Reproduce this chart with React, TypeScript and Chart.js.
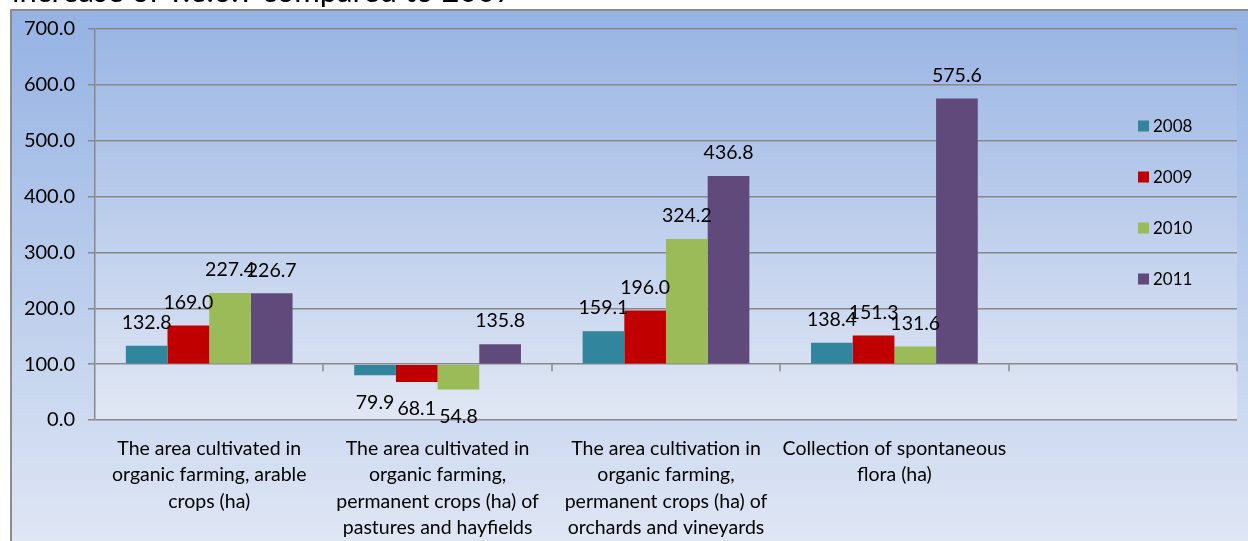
import React, { useEffect, useRef } from "react";
import { Chart, registerables } from "chart.js";

Chart.register(...registerables);

const titleText = "increase of Y.e.o.Y compared to 2007";
const categories: string[][] = [
  ["The area cultivated in", "organic farming, arable", "crops (ha)"],
  ["The area cultivated in", "organic farming,", "permanent crops (ha) of", "pastures and hayfields"],
  ["The area cultivation in", "organic farming,", "permanent crops (ha) of", "orchards and vineyards"],
  ["Collection of spontaneous", "flora (ha)"],
  [""],
];
const seriesNames = ["2008", "2009", "2010", "2011"];
const values2008 = [132.8, 79.9, 159.1, 138.4, null];
const values2009 = [169.0, 68.1, 196.0, 151.3, null];
const values2010 = [227.4, 54.8, 324.2, 131.6, null];
const values2011 = [226.7, 135.8, 436.8, 575.6, null];
const seriesColors = ["#31859c", "#c00000", "#9bbb59", "#604a7b"];
const baseValue = 100;
const yMin = 0;
const yMax = 700;
const yStep = 100;

const FONT = "Lato, 'Open Sans', sans-serif";

export default function App() {
  const ref = useRef<HTMLCanvasElement | null>(null);

  useEffect(() => {
    document.body.style.margin = "0";
    document.body.style.overflow = "hidden";
    const canvas = ref.current;
    if (!canvas) return;

    const bgPlugin = {
      id: "bgPlugin",
      beforeDraw(chart: any) {
        const ctx = chart.ctx;
        const W = chart.width;
        const H = chart.height;
        ctx.save();
        ctx.fillStyle = "#ffffff";
        ctx.fillRect(0, 0, W, H);
        const g = ctx.createLinearGradient(0, 9, 0, H);
        g.addColorStop(0, "#94b2e3");
        g.addColorStop(1, "#dfe6f4");
        ctx.fillStyle = g;
        ctx.fillRect(10, 9, W - 10, H - 9);
        ctx.strokeStyle = "#8c8c8c";
        ctx.lineWidth = 2;
        ctx.beginPath();
        ctx.moveTo(11, H);
        ctx.lineTo(11, 10);
        ctx.lineTo(W, 10);
        ctx.stroke();
        const a = chart.chartArea;
        const g2 = ctx.createLinearGradient(0, a.top, 0, a.bottom);
        g2.addColorStop(0, "#9bb6e4");
        g2.addColorStop(1, "#e1e7f4");
        ctx.fillStyle = g2;
        ctx.fillRect(a.left, a.top, a.right - a.left, a.bottom - a.top);
        ctx.restore();
      },
      afterDraw(chart: any) {
        const ctx = chart.ctx;
        const xs = chart.scales.x;
        const ys = chart.scales.y;
        const yBase = ys.getPixelForValue(baseValue);
        ctx.save();
        ctx.strokeStyle = "#888888";
        ctx.lineWidth = 1.5;
        ctx.beginPath();
        const n = categories.length;
        const slot = (xs.right - xs.left) / n;
        for (let i = 1; i <= n; i++) {
          const x = Math.round(xs.left + slot * i);
          ctx.moveTo(x, yBase);
          ctx.lineTo(x, yBase + 7);
        }
        ctx.stroke();
        // legend
        ctx.font = "17px " + FONT;
        ctx.textBaseline = "middle";
        ctx.textAlign = "left";
        const legendY = [126, 177, 228, 279];
        seriesNames.forEach((name, i) => {
          const y = legendY[i];
          ctx.fillStyle = seriesColors[i];
          ctx.fillRect(1138, y - 5.5, 11, 11);
          ctx.fillStyle = "#000000";
          ctx.fillText(name, 1153, y + 1);
        });
        ctx.restore();
      },
      afterDatasetsDraw(chart: any) {
        const ctx = chart.ctx;
        ctx.save();
        ctx.font = "19.5px " + FONT;
        ctx.fillStyle = "#000000";
        ctx.textAlign = "center";
        ctx.textBaseline = "middle";
        chart.data.datasets.forEach((ds: any, di: number) => {
          const meta = chart.getDatasetMeta(di);
          meta.data.forEach((el: any, i: number) => {
            const v = ds.data[i];
            if (v === null || v === undefined) return;
            const txt = Number(v).toFixed(1);
            if (v >= baseValue) {
              ctx.fillText(txt, el.x, el.y - 23);
            } else {
              ctx.fillText(txt, el.x, el.y + 27);
            }
          });
        });
        ctx.restore();
      },
    };

    const allValues = [values2008, values2009, values2010, values2011];
    const chart = new Chart(canvas, {
      type: "bar",
      data: {
        labels: categories,
        datasets: seriesNames.map((name, i) => ({
          label: name,
          data: allValues[i],
          backgroundColor: seriesColors[i],
          borderWidth: 0,
          base: baseValue,
          categoryPercentage: 0.73,
          barPercentage: 1.0,
        })),
      },
      options: {
        responsive: false,
        animation: false,
        events: [],
        layout: { padding: { left: 0, top: 29, right: 11, bottom: 0 } },
        plugins: {
          legend: { display: false },
          tooltip: { enabled: false },
          title: { display: false },
        },
        scales: {
          x: {
            grid: { display: false, drawTicks: false },
            border: { display: false },
            ticks: {
              font: { family: FONT, size: 19.5, lineHeight: 1.36 },
              color: "#000000",
              padding: 15,
              maxRotation: 0,
              minRotation: 0,
              autoSkip: false,
            },
            afterFit(scale: any) {
              scale.height = 121;
            },
          },
          y: {
            min: yMin,
            max: yMax,
            ticks: {
              stepSize: yStep,
              font: { family: FONT, size: 20 },
              color: "#000000",
              padding: 13,
              callback: (v: any) => Number(v).toFixed(1),
            },
            grid: {
              color: "#888888",
              lineWidth: 1.5,
              tickLength: 7,
              drawTicks: true,
            },
            border: { display: true, color: "#888888", width: 1.5 },
            afterFit(scale: any) {
              scale.width = 95;
            },
          },
        },
      },
      plugins: [bgPlugin],
    });

    return () => {
      chart.destroy();
    };
  }, []);

  return (
    <div style={{ position: "fixed", left: 0, top: 0, width: 1248, height: 541, overflow: "hidden" }}>
      <canvas ref={ref} width={1248} height={541} style={{ display: "block", width: 1248, height: 541 }} />
      <div
        style={{
          position: "absolute",
          left: 12,
          top: -25,
          fontFamily: FONT,
          fontSize: 31,
          lineHeight: "31px",
          color: "#000",
          whiteSpace: "nowrap",
        }}
      >
        {titleText}
      </div>
    </div>
  );
}
